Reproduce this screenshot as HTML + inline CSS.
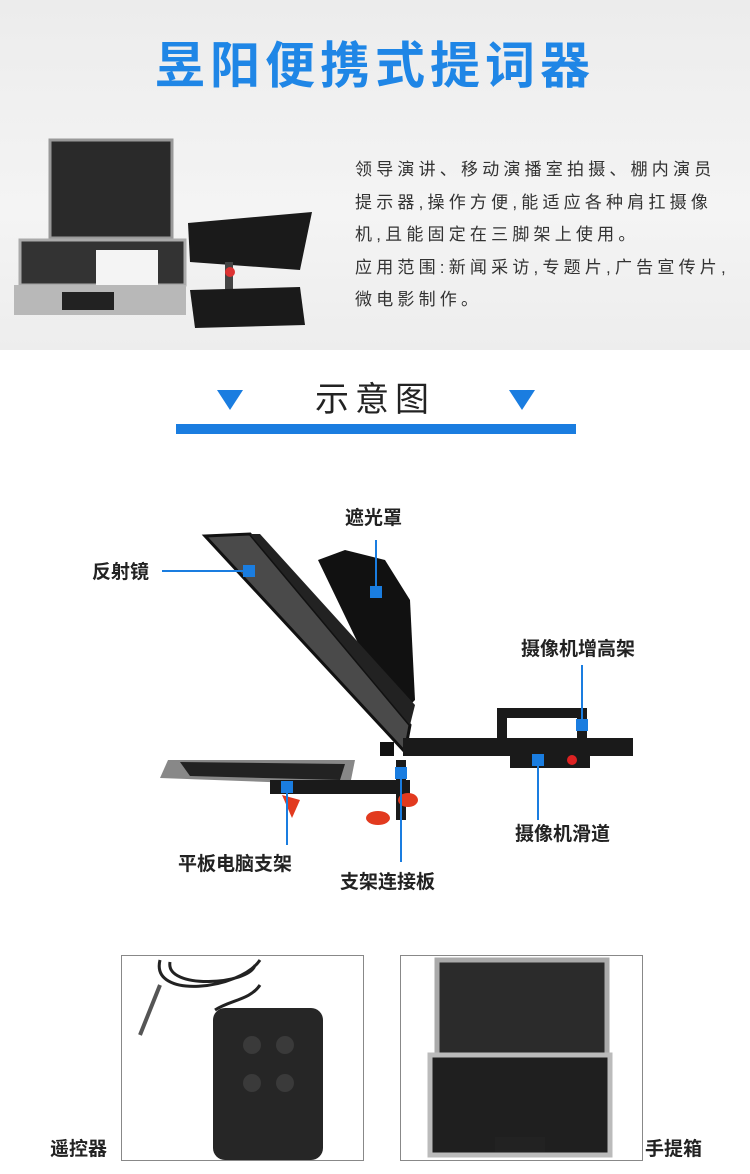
<!DOCTYPE html>
<html><head><meta charset="utf-8"><style>
body{margin:0;width:750px;height:1174px;position:relative;background:#fff;font-family:"Liberation Sans","Noto Sans CJK SC",sans-serif;overflow:hidden}
.top{position:absolute;left:0;top:0;width:750px;height:350px;background:linear-gradient(#ececec,#f4f4f4 60%,#ededed)}
.t{position:absolute}
</style></head><body>
<div class="top"></div>
<div class="t" style="left:130px;top:36px;width:490px;text-align:center;font-size:50px;font-weight:bold;color:#1f86e6;letter-spacing:5px;line-height:60px">昱阳便携式提词器</div>
<div class="t" style="left:355px;top:154px;font-size:17px;line-height:32.5px;color:#333;letter-spacing:4.2px;white-space:nowrap">领导演讲、移动演播室拍摄、棚内演员<br>提示器,操作方便,能适应各种肩扛摄像<br>机,且能固定在三脚架上使用。<br>应用范围:新闻采访,专题片,广告宣传片,<br>微电影制作。</div>
<svg class="t" style="left:0;top:0" width="750" height="1174">
<polygon points="50,140 172,140 172,238 50,238" fill="#2a2a2a" stroke="#999" stroke-width="3"/>
<polygon points="20,240 185,240 185,285 20,285" fill="#333" stroke="#aaa" stroke-width="3"/>
<rect x="96" y="250" width="62" height="35" fill="#f4f4f4"/>
<rect x="14" y="285" width="172" height="30" fill="#b8b8b8"/>
<rect x="62" y="292" width="52" height="18" fill="#222"/>
<polygon points="188,223 312,212 300,270 190,262" fill="#1a1a1a"/>
<rect x="225" y="262" width="8" height="32" fill="#444"/>
<circle cx="230" cy="272" r="5" fill="#d33"/>
<polygon points="190,290 300,287 305,325 195,328" fill="#1a1a1a"/>
<text x="375" y="411" text-anchor="middle" font-size="34" fill="#222" letter-spacing="6" font-family="Liberation Sans,Noto Sans CJK SC,sans-serif">示意图</text>
<polygon points="217,390 243,390 230,410" fill="#1a7de0"/>
<polygon points="509,390 535,390 522,410" fill="#1a7de0"/>
<rect x="176" y="424" width="400" height="10" fill="#1a7de0"/>
<polygon points="318,560 345,550 385,560 410,600 415,700 395,720" fill="#111"/>
<polygon points="205,536 250,534 410,725 405,752" fill="#4a4a4a" stroke="#111" stroke-width="3"/>
<polygon points="250,534 410,725 415,705 260,534" fill="#222"/>
<rect x="403" y="738" width="230" height="18" fill="#1a1a1a"/>
<rect x="497" y="708" width="10" height="40" fill="#1a1a1a"/>
<rect x="497" y="708" width="90" height="10" fill="#1a1a1a"/>
<rect x="577" y="708" width="10" height="60" fill="#1a1a1a"/>
<rect x="510" y="754" width="80" height="14" fill="#1a1a1a"/>
<circle cx="572" cy="760" r="5" fill="#d22"/>
<rect x="380" y="742" width="14" height="14" fill="#111"/>
<polygon points="168,760 355,760 350,785 160,778" fill="#888"/>
<polygon points="180,762 345,764 340,780 190,776" fill="#222"/>
<rect x="270" y="780" width="140" height="14" fill="#1a1a1a"/>
<rect x="396" y="760" width="10" height="60" fill="#1a1a1a"/>
<polygon points="282,795 300,800 292,818" fill="#e23a1f"/>
<ellipse cx="378" cy="818" rx="12" ry="7" fill="#e23a1f"/>
<ellipse cx="408" cy="800" rx="10" ry="7" fill="#e23a1f"/>
<g stroke="#1a7de0" stroke-width="2" fill="none">
<line x1="162" y1="571" x2="248" y2="571"/>
<line x1="376" y1="540" x2="376" y2="592"/>
<line x1="582" y1="665" x2="582" y2="725"/>
<line x1="538" y1="760" x2="538" y2="820"/>
<line x1="287" y1="787" x2="287" y2="845"/>
<line x1="401" y1="773" x2="401" y2="862"/>
</g>
<g fill="#1a7de0">
<rect x="243" y="565" width="12" height="12"/>
<rect x="370" y="586" width="12" height="12"/>
<rect x="576" y="719" width="12" height="12"/>
<rect x="532" y="754" width="12" height="12"/>
<rect x="281" y="781" width="12" height="12"/>
<rect x="395" y="767" width="12" height="12"/>
</g>
<g font-size="19" fill="#222" font-weight="bold" font-family="Liberation Sans,Noto Sans CJK SC,sans-serif">
<text x="92" y="578">反射镜</text>
<text x="345" y="524">遮光罩</text>
<text x="521" y="655">摄像机增高架</text>
<text x="515" y="840">摄像机滑道</text>
<text x="178" y="870">平板电脑支架</text>
<text x="340" y="888">支架连接板</text>
<text x="50" y="1155">遥控器</text>
<text x="645" y="1155">手提箱</text>
</g>
<rect x="121.5" y="955.5" width="242" height="205" fill="#fff" stroke="#888"/>
<rect x="400.5" y="955.5" width="242" height="205" fill="#fff" stroke="#888"/>
<path d="M160,960 C150,1000 240,990 260,960 M170,962 C165,990 250,985 255,965 M260,985 C250,1000 230,1000 215,1010" stroke="#222" stroke-width="3" fill="none"/>
<line x1="140" y1="1035" x2="160" y2="985" stroke="#555" stroke-width="4"/>
<rect x="213" y="1008" width="110" height="152" rx="12" fill="#262626"/>
<g fill="#3a3a3a"><circle cx="252" cy="1045" r="9"/><circle cx="285" cy="1045" r="9"/><circle cx="252" cy="1083" r="9"/><circle cx="285" cy="1083" r="9"/></g>
<rect x="437" y="960" width="170" height="95" fill="#2b2b2b" stroke="#aaa" stroke-width="5"/>
<rect x="430" y="1055" width="180" height="100" fill="#1f1f1f" stroke="#bbb" stroke-width="5"/>
<rect x="495" y="1137" width="50" height="15" fill="#222"/>
</svg>
</body></html>
